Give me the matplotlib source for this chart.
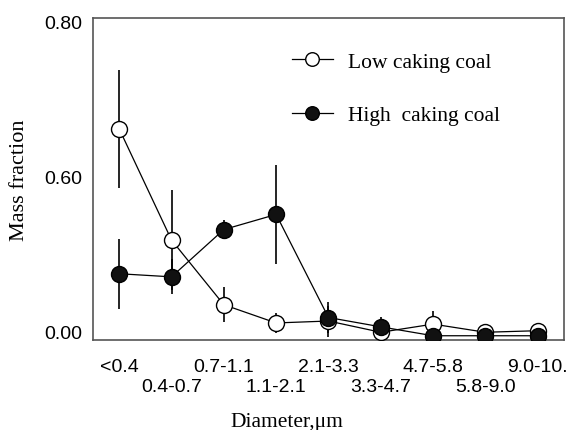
import numpy as np
import matplotlib
matplotlib.use('Agg')
import matplotlib.pyplot as plt

# size bins (um) and mass fractions for each coal
bins = ['<0.4', '0.4-0.7', '0.7-1.1', '1.1-2.1', '2.1-3.3',
        '3.3-4.7', '4.7-5.8', '5.8-9.0', '9.0-10.']
low_caking = [0.522, 0.235, 0.068, 0.021, 0.026, -0.003, 0.018, -0.003, 0.001]
low_err = [0.153, 0.130, 0.045, 0.025, 0.040, 0.020, 0.035, 0.010, 0.010]
high_caking = [0.148, 0.140, 0.262, 0.301, 0.035, 0.011, -0.012, -0.012, -0.012]
high_err = [0.090, 0.045, 0.025, 0.127, 0.040, 0.025, 0.010, 0.010, 0.010]
ytick_pos = [0.0, 0.4, 0.8]
ytick_text = ['0.00', '0.60', '0.80']

serif = 'Liberation Serif'
sans = 'Liberation Sans'

fig = plt.figure(figsize=(5.76, 4.31), dpi=100)
ax = fig.add_axes([0.1615, 0.2088, 0.8175, 0.7472])

x = np.arange(len(bins))

ax.errorbar(x, low_caking, yerr=low_err, fmt='none', ecolor='black',
            elinewidth=1.2, capsize=0, zorder=2)
ax.errorbar(x, high_caking, yerr=high_err, fmt='none', ecolor='black',
            elinewidth=1.2, capsize=0, zorder=2)
ax.plot(x, low_caking, '-o', color='black', lw=0.9, ms=11.5,
        mfc='white', mec='black', mew=1.0, label='Low caking coal', zorder=3)
ax.plot(x, high_caking, '-o', color='black', lw=0.9, ms=11.5,
        mfc='#111111', mec='black', mew=1.0, label='High  caking coal', zorder=4)

ax.set_xlim(-0.5, 8.5)
ax.set_ylim(-0.023, 0.808)

ax.set_yticks(ytick_pos)
ax.set_yticklabels(ytick_text, fontfamily=sans, fontsize=14)

# even bins on the first row (major), odd bins on the second row (minor)
ax.set_xticks(x[::2])
ax.set_xticklabels(bins[::2], fontfamily=sans, fontsize=14)
ax.set_xticks(x[1::2], minor=True)
ax.set_xticklabels(bins[1::2], minor=True, fontfamily=sans, fontsize=14)
ax.tick_params(axis='both', which='both', length=0)
ax.tick_params(axis='x', which='major', pad=13)
ax.tick_params(axis='x', which='minor', pad=27)
ax.tick_params(axis='y', pad=8)

for s in ax.spines.values():
    s.set_color('#555555')
    s.set_linewidth(1.2)

ax.set_xlabel('Diameter,\u03bcm', fontfamily=serif, fontsize=15.5)
ax.xaxis.set_label_coords(0.412, -0.224)
ax.set_ylabel('Mass fraction', fontfamily=serif, fontsize=16)
ax.yaxis.set_label_coords(-0.136, 0.5)

ax.legend(loc='upper left', bbox_to_anchor=(0.4225, 0.895), frameon=False,
          prop={'family': serif, 'size': 15.5}, handlelength=1.9,
          handletextpad=0.7, labelspacing=1.55, borderpad=0,
          borderaxespad=0, markerscale=0.85)

fig.savefig('out.png', dpi=100)
